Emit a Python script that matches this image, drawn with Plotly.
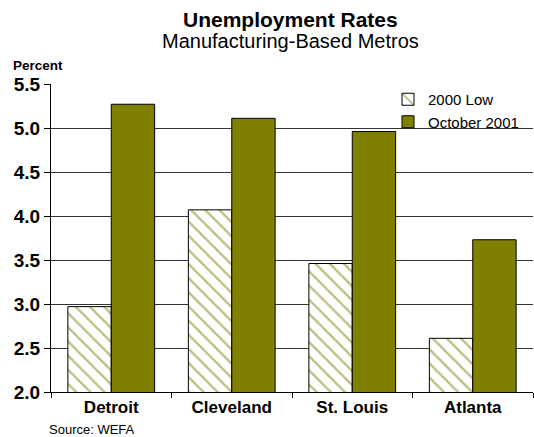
import plotly.graph_objects as go

categories = ["Detroit", "Cleveland", "St. Louis", "Atlanta"]
low_2000 = [2.97, 4.07, 3.46, 2.61]
oct_2001 = [5.27, 5.11, 4.96, 3.73]
y_ticks = [2.0, 2.5, 3.0, 3.5, 4.0, 4.5, 5.0, 5.5]

OLIVE = "#808000"
FONT = "Liberation Sans, Arial, sans-serif"

W, H = 534, 437
ML, MR, MT, MB = 51, 1, 84, 45
plot_w = W - ML - MR
plot_h = H - MT - MB


def px(pix):
    return (pix - ML) / plot_w


def py(pix):
    return (H - MB - pix) / plot_h


fig = go.Figure()
fig.add_trace(go.Bar(
    name="2000 Low", x=categories, y=low_2000,
    marker=dict(color="white", line=dict(color="black", width=1),
                pattern=dict(shape="\\", fgcolor="#7a7a00", bgcolor="white",
                             size=10, solidity=0.22)),
))
fig.add_trace(go.Bar(
    name="October 2001", x=categories, y=oct_2001,
    marker=dict(color=OLIVE, line=dict(color="black", width=1)),
))

fig.update_layout(
    width=W, height=H,
    margin=dict(l=ML, r=MR, t=MT, b=MB),
    paper_bgcolor="white", plot_bgcolor="white",
    barmode="group", bargap=0.28, bargroupgap=0,
    font=dict(family=FONT, color="black"),
    showlegend=True,
    legend=dict(x=px(388), y=py(83), xanchor="left", yanchor="top",
                bgcolor="rgba(0,0,0,0)", borderwidth=0,
                font=dict(size=15, family=FONT), traceorder="normal",
                tracegroupgap=0),
    xaxis=dict(
        type="category", showline=True, linecolor="black", linewidth=1,
        ticks="outside", tickson="boundaries", ticklen=5, tickcolor="black",
        tickfont=dict(size=17, family=FONT, weight="bold"),
        showgrid=False, automargin=False,
    ),
    yaxis=dict(
        range=[2.0, 5.5], tickvals=y_ticks,
        ticktext=[f"{v:.1f}" for v in y_ticks],
        showline=True, linecolor="black", linewidth=1,
        ticks="outside", ticklen=6, tickcolor="black",
        tickfont=dict(size=19, family=FONT, weight="bold"),
        showgrid=True, gridcolor="#333333", gridwidth=1,
        zeroline=False, automargin=False,
    ),
)

fig.add_annotation(text="<b>Unemployment Rates</b>", x=px(290), y=py(20),
                   xref="paper", yref="paper", showarrow=False,
                   font=dict(size=21, family=FONT), xanchor="center", yanchor="middle")
fig.add_annotation(text="Manufacturing-Based Metros", x=px(290), y=py(40.5),
                   xref="paper", yref="paper", showarrow=False,
                   font=dict(size=20, family=FONT), xanchor="center", yanchor="middle")
fig.add_annotation(text="<b>Percent</b>", x=px(11), y=py(66),
                   xref="paper", yref="paper", showarrow=False,
                   font=dict(size=13.5, family=FONT), xanchor="left", yanchor="middle")
fig.add_annotation(text="Source: WEFA", x=px(47), y=py(429),
                   xref="paper", yref="paper", showarrow=False,
                   font=dict(size=13, family=FONT), xanchor="left", yanchor="middle")

fig.write_html("out.html", config={"displayModeBar": False},
               post_script="document.body.style.margin='0';")
